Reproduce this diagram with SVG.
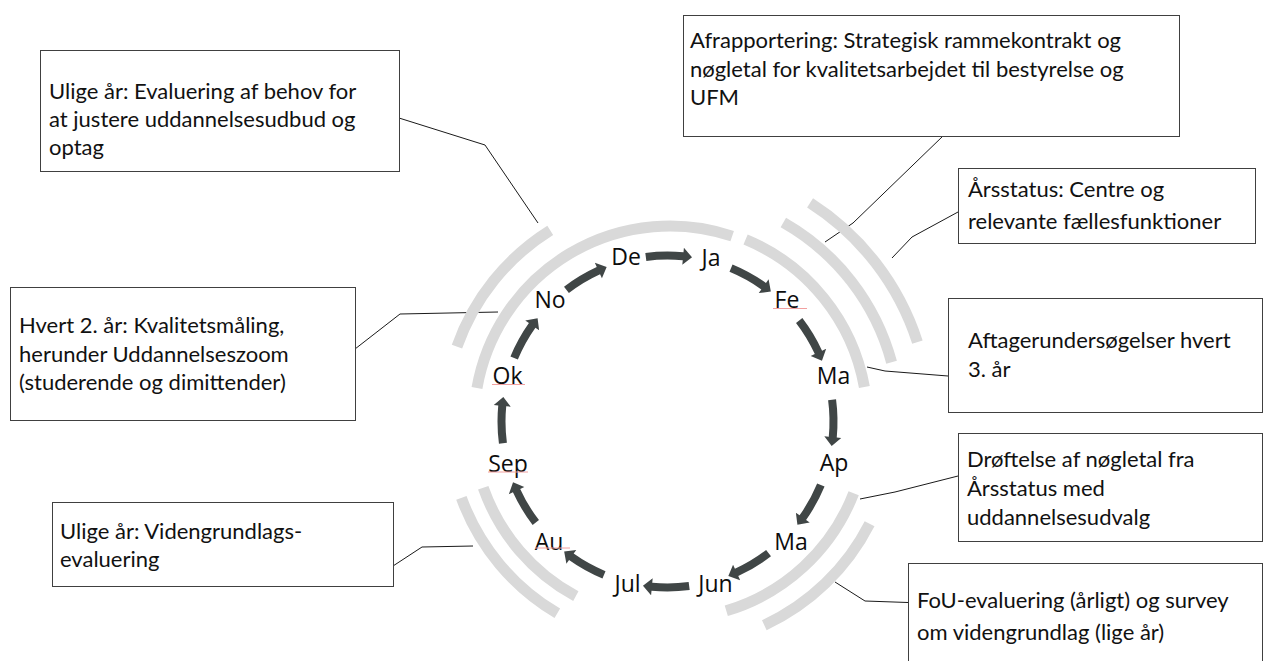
<svg xmlns="http://www.w3.org/2000/svg" width="1264" height="661" viewBox="0 0 1264 661">
<defs>
<style>
.bg{fill:#ffffff}
.ring{fill:none;stroke:#d9d9d9;stroke-width:11}
.arr{fill:#404646}
.mon{font-family:"Open Sans","DejaVu Sans",sans-serif;font-size:23px;fill:#0d0d0d;text-anchor:middle}
.box{fill:#ffffff;stroke:#404040;stroke-width:1}
.txt{font-family:Lato,"Liberation Sans",sans-serif;font-size:22px;fill:#111111}
.conn{fill:none;stroke:#1a1a1a;stroke-width:1}
.spell{stroke:#f2a0a0;stroke-width:1}
</style>
<path id="arrow" d="M168.54,-22.19 A170,170 0 0 1 169.25,16.00 L173.73,16.42 L164.18,24.54 L156.80,14.82 L161.28,15.25 A162,162 0 0 0 160.61,-21.15 Z"/>
</defs>
<rect class="bg" x="0" y="0" width="1264" height="661"/>

<g id="connectors">
<polyline class="conn" points="399,118 485,145 538,223"/>
<polyline class="conn" points="943,136 853,223 825,242"/>
<polyline class="conn" points="958,212 912,237 892,258"/>
<polyline class="conn" points="867,367 885,371 948,376"/>
<polyline class="conn" points="860,499 895,492 958,476"/>
<polyline class="conn" points="835,582 865,601 908,602.5"/>
<polyline class="conn" points="355,349 400,314 498,312"/>
<polyline class="conn" points="393,566 422,547 473,546"/>
</g>

<g id="rings">
<path class="ring" d="M476.98,387.96 A196,196 0 0 1 732.19,236.13"/>
<path class="ring" d="M456.96,346.56 A226,226 0 0 1 550.24,230.34"/>
<path class="ring" d="M745.58,239.53 A197.5,197.5 0 0 1 864.38,387.03"/>
<path class="ring" d="M783.36,222.45 A229.5,229.5 0 0 1 891.58,362.22"/>
<path class="ring" d="M810.08,202.96 A260,260 0 0 1 917.41,342.09"/>
<path class="ring" d="M575.83,596.17 A198,198 0 0 1 483.24,487.77"/>
<path class="ring" d="M557.33,613.28 A222,222 0 0 1 461.39,497.93"/>
<path class="ring" d="M853.67,493.24 A197,197 0 0 1 726.28,610.79"/>
<path class="ring" d="M869.59,523.69 A224,224 0 0 1 764.31,625.18"/>
</g>

<g id="cycle-arrows">
<use href="#arrow" class="arr" transform="translate(667.5,421.5) rotate(-90)"/>
<use href="#arrow" class="arr" transform="translate(667.5,421.5) rotate(-60)"/>
<use href="#arrow" class="arr" transform="translate(667.5,421.5) rotate(-30)"/>
<use href="#arrow" class="arr" transform="translate(667.5,421.5) rotate(0)"/>
<use href="#arrow" class="arr" transform="translate(667.5,421.5) rotate(30)"/>
<use href="#arrow" class="arr" transform="translate(667.5,421.5) rotate(60)"/>
<use href="#arrow" class="arr" transform="translate(667.5,421.5) rotate(90)"/>
<use href="#arrow" class="arr" transform="translate(667.5,421.5) rotate(120)"/>
<use href="#arrow" class="arr" transform="translate(667.5,421.5) rotate(150)"/>
<use href="#arrow" class="arr" transform="translate(667.5,421.5) rotate(180)"/>
<use href="#arrow" class="arr" transform="translate(667.5,421.5) rotate(210)"/>
<use href="#arrow" class="arr" transform="translate(667.5,421.5) rotate(240)"/>
</g>

<g id="months">
<g id="m-de"><text class="mon" x="626" y="265">De</text></g>
<g id="m-ja"><text class="mon" x="711" y="266">Ja</text></g>
<g id="m-fe"><text class="mon" x="787" y="308">Fe</text><line class="spell" x1="773" y1="308.5" x2="807" y2="308.5"/></g>
<g id="m-mar"><text class="mon" x="833.5" y="383.5">Ma</text></g>
<g id="m-ap"><text class="mon" x="834" y="471">Ap</text></g>
<g id="m-maj"><text class="mon" x="791" y="549.5">Ma</text></g>
<g id="m-jun"><text class="mon" x="715.5" y="591.5">Jun</text></g>
<g id="m-jul"><text class="mon" x="627.5" y="591.5">Jul</text></g>
<g id="m-au"><text class="mon" x="549" y="549.5">Au</text><line class="spell" x1="535" y1="548" x2="570" y2="548"/></g>
<g id="m-sep"><text class="mon" x="508" y="471.5">Sep</text><line class="spell" x1="488" y1="472" x2="528" y2="472"/></g>
<g id="m-ok"><text class="mon" x="507.5" y="384">Ok</text><line class="spell" x1="492" y1="384.5" x2="525" y2="384.5"/></g>
<g id="m-no"><text class="mon" x="550" y="308">No</text></g>
</g>

<g id="box-ulige-behov">
<rect class="box" x="40.5" y="50.5" width="359" height="121"/>
<text class="txt" x="49" y="99">Ulige år: Evaluering af behov for</text>
<text class="txt" x="49" y="127">at justere uddannelsesudbud og</text>
<text class="txt" x="49" y="155">optag</text>
</g>

<g id="box-afrapportering">
<rect class="box" x="683.5" y="15.5" width="496" height="121"/>
<text class="txt" x="690" y="48">Afrapportering: Strategisk rammekontrakt og</text>
<text class="txt" x="690" y="77">nøgletal for kvalitetsarbejdet til bestyrelse og</text>
<text class="txt" x="690" y="105">UFM</text>
</g>

<g id="box-aarsstatus">
<rect class="box" x="958.5" y="168.5" width="297" height="75"/>
<text class="txt" x="968" y="197">Årsstatus: Centre og</text>
<text class="txt" x="968" y="229">relevante fællesfunktioner</text>
</g>

<g id="box-aftager">
<rect class="box" x="948.5" y="298.5" width="314" height="114"/>
<text class="txt" x="968" y="348">Aftagerundersøgelser hvert</text>
<text class="txt" x="968" y="377">3. år</text>
</g>

<g id="box-droeftelse">
<rect class="box" x="958.5" y="433.5" width="304" height="108"/>
<text class="txt" x="967" y="467">Drøftelse af nøgletal fra</text>
<text class="txt" x="967" y="496">Årsstatus med</text>
<text class="txt" x="967" y="525">uddannelsesudvalg</text>
</g>

<g id="box-fou">
<rect class="box" x="908.5" y="563.5" width="354" height="110"/>
<text class="txt" x="917" y="608">FoU-evaluering (årligt) og survey</text>
<text class="txt" x="917" y="640">om videngrundlag (lige år)</text>
</g>

<g id="box-hvert">
<rect class="box" x="10.5" y="287.5" width="345" height="133"/>
<text class="txt" x="19" y="333">Hvert 2. år: Kvalitetsmåling,</text>
<text class="txt" x="19" y="362">herunder Uddannelseszoom</text>
<text class="txt" x="19" y="390">(studerende og dimittender)</text>
</g>

<g id="box-videngrundlag">
<rect class="box" x="52.5" y="502.5" width="341" height="84"/>
<text class="txt" x="60" y="539">Ulige år: Videngrundlags-</text>
<text class="txt" x="60" y="567">evaluering</text>
</g>
</svg>
